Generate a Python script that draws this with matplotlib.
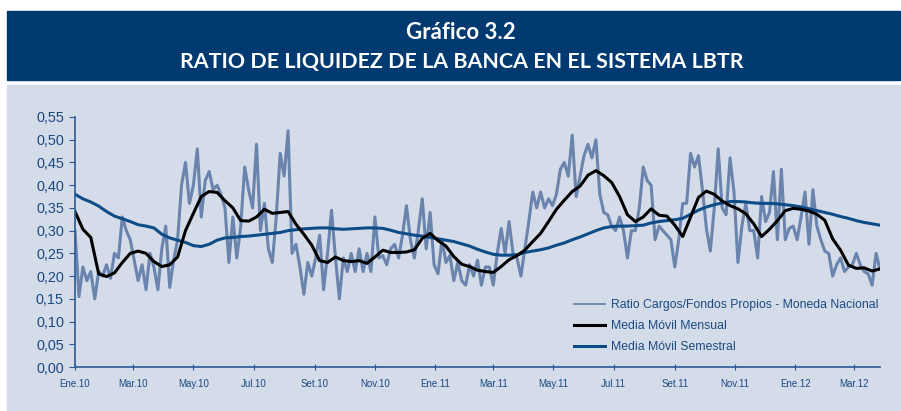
import numpy as np
import pandas as pd
import matplotlib.pyplot as plt
from matplotlib.patches import Rectangle
from matplotlib.lines import Line2D

# ratio cargos / fondos propios (moneda nacional), every 4 days from 01-01-2010
ratio = [0.30, 0.155, 0.22, 0.19, 0.21, 0.15, 0.21, 0.20, 0.225, 0.195,
         0.25, 0.24, 0.33, 0.30, 0.28, 0.235, 0.19, 0.225, 0.17, 0.25,
         0.22, 0.17, 0.26, 0.31, 0.175, 0.235, 0.28, 0.40, 0.45, 0.36,
         0.40, 0.48, 0.33, 0.41, 0.43, 0.39, 0.40, 0.38, 0.35, 0.23,
         0.33, 0.24, 0.31, 0.44, 0.39, 0.35, 0.49, 0.30, 0.36, 0.26,
         0.23, 0.33, 0.47, 0.42, 0.52, 0.25, 0.27, 0.22, 0.16, 0.23,
         0.20, 0.24, 0.29, 0.17, 0.25, 0.345, 0.24, 0.15, 0.24, 0.21,
         0.25, 0.21, 0.26, 0.21, 0.25, 0.21, 0.33, 0.24, 0.245, 0.225,
         0.26, 0.27, 0.24, 0.29, 0.355, 0.28, 0.24, 0.30, 0.37, 0.26,
         0.34, 0.225, 0.205, 0.28, 0.23, 0.245, 0.19, 0.23, 0.19, 0.18,
         0.225, 0.20, 0.235, 0.18, 0.22, 0.22, 0.18, 0.25, 0.305, 0.25,
         0.32, 0.25, 0.24, 0.20, 0.26, 0.32, 0.385, 0.35, 0.385, 0.35,
         0.37, 0.355, 0.38, 0.435, 0.45, 0.42, 0.51, 0.375, 0.42, 0.465,
         0.49, 0.46, 0.50, 0.38, 0.34, 0.335, 0.31, 0.30, 0.33, 0.30,
         0.24, 0.30, 0.30, 0.35, 0.44, 0.41, 0.40, 0.28, 0.31, 0.30,
         0.29, 0.28, 0.22, 0.28, 0.36, 0.36, 0.47, 0.44, 0.465, 0.39,
         0.305, 0.255, 0.35, 0.48, 0.35, 0.335, 0.46, 0.385, 0.23, 0.31,
         0.36, 0.30, 0.30, 0.24, 0.375, 0.32, 0.34, 0.43, 0.28, 0.435,
         0.28, 0.305, 0.31, 0.28, 0.33, 0.385, 0.27, 0.39, 0.31, 0.28,
         0.255, 0.25, 0.20, 0.225, 0.24, 0.21, 0.22, 0.225, 0.25, 0.225,
         0.21, 0.205, 0.18, 0.25, 0.215]

# moving averages, every 8 days from 01-01-2010
media_mensual = [0.342, 0.303, 0.285, 0.205, 0.199, 0.207, 0.23, 0.25, 0.255, 0.25,
                 0.232, 0.221, 0.225, 0.242, 0.30, 0.338, 0.375, 0.386, 0.384, 0.366,
                 0.35, 0.322, 0.321, 0.33, 0.347, 0.338, 0.34, 0.342, 0.314, 0.292,
                 0.268, 0.234, 0.23, 0.242, 0.234, 0.232, 0.234, 0.228, 0.242, 0.257,
                 0.252, 0.252, 0.253, 0.258, 0.283, 0.294, 0.278, 0.266, 0.243, 0.226,
                 0.221, 0.213, 0.21, 0.208, 0.221, 0.236, 0.245, 0.257, 0.276, 0.294,
                 0.32, 0.347, 0.367, 0.386, 0.398, 0.422, 0.432, 0.421, 0.406, 0.375,
                 0.335, 0.32, 0.33, 0.348, 0.334, 0.332, 0.312, 0.287, 0.33, 0.373,
                 0.387, 0.38, 0.365, 0.355, 0.348, 0.337, 0.315, 0.287, 0.303, 0.322,
                 0.344, 0.349, 0.347, 0.343, 0.336, 0.323, 0.282, 0.257, 0.224, 0.217,
                 0.218, 0.211, 0.216]

media_semestral = [0.38, 0.37, 0.363, 0.354, 0.342, 0.332, 0.326, 0.32, 0.313, 0.31,
                   0.306, 0.292, 0.284, 0.279, 0.274, 0.267, 0.265, 0.27, 0.279, 0.284,
                   0.285, 0.287, 0.288, 0.29, 0.292, 0.294, 0.296, 0.30, 0.302, 0.304,
                   0.305, 0.306, 0.306, 0.304, 0.303, 0.304, 0.305, 0.306, 0.306, 0.305,
                   0.301, 0.296, 0.293, 0.29, 0.288, 0.285, 0.282, 0.279, 0.276, 0.271,
                   0.266, 0.259, 0.253, 0.248, 0.246, 0.246, 0.247, 0.252, 0.255, 0.258,
                   0.262, 0.268, 0.273, 0.28, 0.286, 0.293, 0.30, 0.306, 0.309, 0.31,
                   0.31, 0.311, 0.312, 0.317, 0.32, 0.322, 0.324, 0.327, 0.336, 0.345,
                   0.352, 0.357, 0.361, 0.364, 0.364, 0.363, 0.361, 0.36, 0.36, 0.359,
                   0.357, 0.355, 0.352, 0.348, 0.344, 0.34, 0.336, 0.331, 0.327, 0.322,
                   0.318, 0.315, 0.312]

tick_dates = ["2010-01-01", "2010-03-01", "2010-05-01", "2010-07-01", "2010-09-01",
              "2010-11-01", "2011-01-01", "2011-03-01", "2011-05-01", "2011-07-01",
              "2011-09-01", "2011-11-01", "2012-01-01", "2012-03-01"]
tick_labels = ["Ene.10", "Mar.10", "May.10", "Jul.10", "Set.10", "Nov.10",
               "Ene.11", "Mar.11", "May.11", "Jul.11", "Set.11", "Nov.11",
               "Ene.12", "Mar.12"]

fechas_ratio = pd.date_range("2010-01-01", periods=len(ratio), freq="4D")
fechas_mm = pd.date_range("2010-01-01", periods=len(media_mensual), freq="8D")

navy = "#003a70"
panel = "#d5dce9"
txt = "#1b4a80"
fuente = "Liberation Sans"

fig = plt.figure(figsize=(9.01, 4.11), dpi=100)
fig.patches.append(Rectangle((7/901, 331/411), 893/901, 69/411, transform=fig.transFigure,
                             color=navy, zorder=-10))
fig.patches.append(Rectangle((7/901, 0), 893/901, 326/411, transform=fig.transFigure,
                             color=panel, zorder=-10))
fig.text(0.512, 0.922, "Gráfico 3.2", color="white", fontsize=16, fontweight="bold",
         family="Lato", ha="center", va="center")
fig.text(0.513, 0.850, "RATIO DE LIQUIDEZ DE LA BANCA EN EL SISTEMA LBTR", color="white",
         fontsize=15.4, fontweight="bold", family="Lato", ha="center", va="center")

ax = fig.add_axes([75/901, 44/411, 805/901, 250/411])
ax.set_facecolor("none")
ax.plot(fechas_ratio, ratio, color="#6a84ad", lw=2.2, solid_joinstyle="round")
ax.plot(fechas_mm, media_semestral, color="#0d4c87", lw=2.2)
ax.plot(fechas_mm, media_mensual, color="black", lw=2.2)

ax.set_ylim(0, 0.55)
ax.set_yticks(np.arange(0, 0.551, 0.05))
ax.set_yticklabels([f"{v:.2f}".replace(".", ",") for v in np.arange(0, 0.551, 0.05)],
                   family=fuente, fontsize=10.4, color=txt)
ax.set_xlim(pd.Timestamp("2010-01-01"), pd.Timestamp("2012-03-27"))
ax.set_xticks(pd.to_datetime(tick_dates))
ax.set_xticklabels(tick_labels, family=fuente, fontsize=7, color=txt)

for s in ["top", "right"]:
    ax.spines[s].set_visible(False)
for s in ["left", "bottom"]:
    ax.spines[s].set_color("#2a5a95")
    ax.spines[s].set_linewidth(1.2)
ax.tick_params(axis="y", length=4, color="#2a5a95", pad=4)
ax.tick_params(axis="x", direction="inout", length=5, color="#2a5a95", pad=6)

handles = [Line2D([], [], color="#6a84ad", lw=1.3),
           Line2D([], [], color="black", lw=2.2),
           Line2D([], [], color="#0d4c87", lw=2.2)]
labels = ["Ratio Cargos/Fondos Propios - Moneda Nacional",
          "Media Móvil Mensual", "Media Móvil Semestral"]
leg = ax.legend(handles, labels, loc="upper left", bbox_to_anchor=(0.62, 0.272),
                frameon=False, handlelength=2.55, handletextpad=0.45, labelspacing=0.75,
                borderaxespad=0, borderpad=0, prop={"family": fuente, "size": 8.8})
for t in leg.get_texts():
    t.set_color(txt)

fig.savefig("out.png", dpi=100)
